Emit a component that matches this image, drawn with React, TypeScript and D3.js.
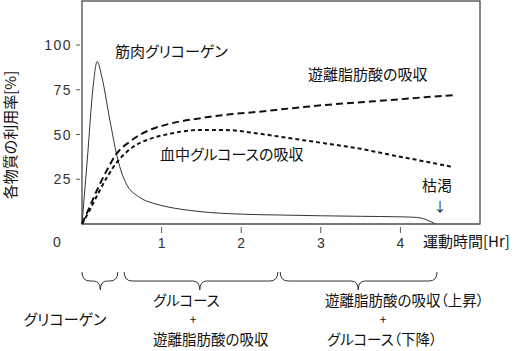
import React from "react";
import * as d3 from "d3";

// 筋肉グリコーゲン (solid)
const glycogenHours = [0, 0.07, 0.14, 0.19, 0.25, 0.35, 0.45, 0.55, 0.72, 0.9, 1.06, 1.47, 2.0, 2.5, 3.0, 3.5, 4.0, 4.2, 4.35, 4.44];
const glycogenRate = [0, 38, 77, 90.7, 82, 58, 36, 23, 15, 11.5, 9.7, 7, 5.5, 5, 4.6, 4.3, 4, 3.7, 2, 0];

// 血中グルコースの吸収 (short dash)
const glucoseHours = [0, 0.1, 0.225, 0.43, 0.64, 0.85, 1.06, 1.47, 1.8, 2.22, 2.6, 3.06, 3.5, 3.89, 4.3, 4.64];
const glucoseRate = [0, 8, 19, 34, 43, 47.5, 50, 52.5, 52.5, 50.5, 48, 45, 42, 38.5, 35, 32];

// 遊離脂肪酸の吸収 (long dash)
const ffaHours = [0, 0.1, 0.2, 0.3, 0.43, 0.6, 0.85, 1.1, 1.47, 1.8, 2.22, 2.6, 3.06, 3.5, 3.89, 4.3, 4.69];
const ffaRate = [0, 10, 20, 29, 39, 46, 52.5, 56, 59, 61, 62.7, 64.5, 66.5, 68, 69.3, 70.8, 72];

const yTicks = [25, 50, 75, 100];
const xTicks = [1, 2, 3, 4];

// phases under the axis: [start, end, tip] in hours
const phaseStart = [0, 0.53, 2.49];
const phaseEnd = [0.45, 2.46, 4.46];
const phaseTip = [0.23, 1.48, 3.47];

const font = "'Noto Sans CJK JP', 'Noto Sans', sans-serif";

export default function App() {
  const width = 520;
  const height = 351;

  const x = d3.scaleLinear().domain([0, 5]).range([82, 480]);
  const y = d3.scaleLinear().domain([0, 100]).range([224, 45]);
  const top = 1;

  const line = d3
    .line<[number, number]>()
    .x((d) => x(d[0]))
    .y((d) => y(d[1]))
    .curve(d3.curveMonotoneX);

  const zip = (a: number[], b: number[]) => a.map((t, i) => [t, b[i]] as [number, number]);

  const brace = (i: number) => {
    const x1 = x(phaseStart[i]);
    const x2 = x(phaseEnd[i]);
    const xm = x(phaseTip[i]);
    const y0 = 272;
    const y1 = 281;
    const y2 = 290;
    return `M${x1},${y0} Q${x1},${y1} ${x1 + 8},${y1} L${xm - 7},${y1} Q${xm},${y1} ${xm},${y2} Q${xm},${y1} ${xm + 7},${y1} L${x2 - 8},${y1} Q${x2},${y1} ${x2},${y0}`;
  };

  const txt = { fontFamily: font, fontSize: 15, fill: "#111", fontFeatureSettings: "'palt'" } as React.CSSProperties;
  const mid = { ...txt, fontSize: 14.5 } as React.CSSProperties;
  const small = { ...txt, fontSize: 12 } as React.CSSProperties;

  return (
    <svg width={width} height={height} style={{ position: "absolute", left: 0, top: 0, background: "#fff" }}>
      {/* frame */}
      <rect x={x(0)} y={top} width={x(5) - x(0)} height={y(0) - top} fill="none" stroke="#111" strokeWidth={1} />
      <line x1={x(0)} x2={x(5)} y1={y(0)} y2={y(0)} stroke="#777" strokeWidth={2} />

      {/* y ticks */}
      {yTicks.map((t) => (
        <g key={t}>
          <line x1={76} x2={80} y1={y(t)} y2={y(t)} stroke="#555" />
          <text x={72} y={y(t) + 5} textAnchor="end" fontFamily="'Liberation Sans', sans-serif" fontSize={14} letterSpacing={1.5} fill="#333">
            {t}
          </text>
        </g>
      ))}
      <text x={57} y={247} textAnchor="middle" fontFamily="'Liberation Sans', sans-serif" fontSize={14} fill="#333">
        0
      </text>

      {/* x ticks */}
      {xTicks.map((t) => (
        <g key={t}>
          <line x1={x(t)} x2={x(t)} y1={227} y2={233} stroke="#555" />
          <text x={x(t)} y={248} textAnchor="middle" fontFamily="'Liberation Sans', sans-serif" fontSize={14} fill="#333">
            {t}
          </text>
        </g>
      ))}

      {/* series */}
      <path d={line(zip(glycogenHours, glycogenRate)) || ""} fill="none" stroke="#333" strokeWidth={1} />
      <path d={line(zip(ffaHours, ffaRate)) || ""} fill="none" stroke="#111" strokeWidth={2} strokeDasharray="7,4" />
      <path d={line(zip(glucoseHours, glucoseRate)) || ""} fill="none" stroke="#111" strokeWidth={2} strokeDasharray="4,3" />

      {/* labels */}
      <text x={115} y={57} style={txt}>筋肉グリコーゲン</text>
      <text x={308} y={80} style={txt}>遊離脂肪酸の吸収</text>
      <text x={160} y={160} style={txt}>血中グルコースの吸収</text>
      <text x={437} y={191} textAnchor="middle" style={txt}>枯渇</text>
      <text x={440} y={211} textAnchor="middle" style={{ ...txt, fontSize: 13 }}>↓</text>
      <text x={423} y={247} style={txt}>運動時間[Hr]</text>
      <text transform="translate(9,135) rotate(-90)" textAnchor="middle" dominantBaseline="central" style={txt}>
        各物質の利用率[%]
      </text>

      {/* phases */}
      {phaseStart.map((_, i) => (
        <path key={i} d={brace(i)} fill="none" stroke="#333" strokeWidth={1} />
      ))}
      <text x={65} y={325} textAnchor="middle" style={txt}>グリコーゲン</text>
      <text x={153} y={306} style={mid}>グルコース</text>
      <text x={193} y={324} textAnchor="middle" style={small}>+</text>
      <text x={153} y={345} style={mid}>遊離脂肪酸の吸収</text>
      <text x={325} y={306} style={mid}>遊離脂肪酸の吸収（上昇）</text>
      <text x={383} y={324} textAnchor="middle" style={small}>+</text>
      <text x={327} y={345} style={mid}>グルコース（下降）</text>
    </svg>
  );
}
